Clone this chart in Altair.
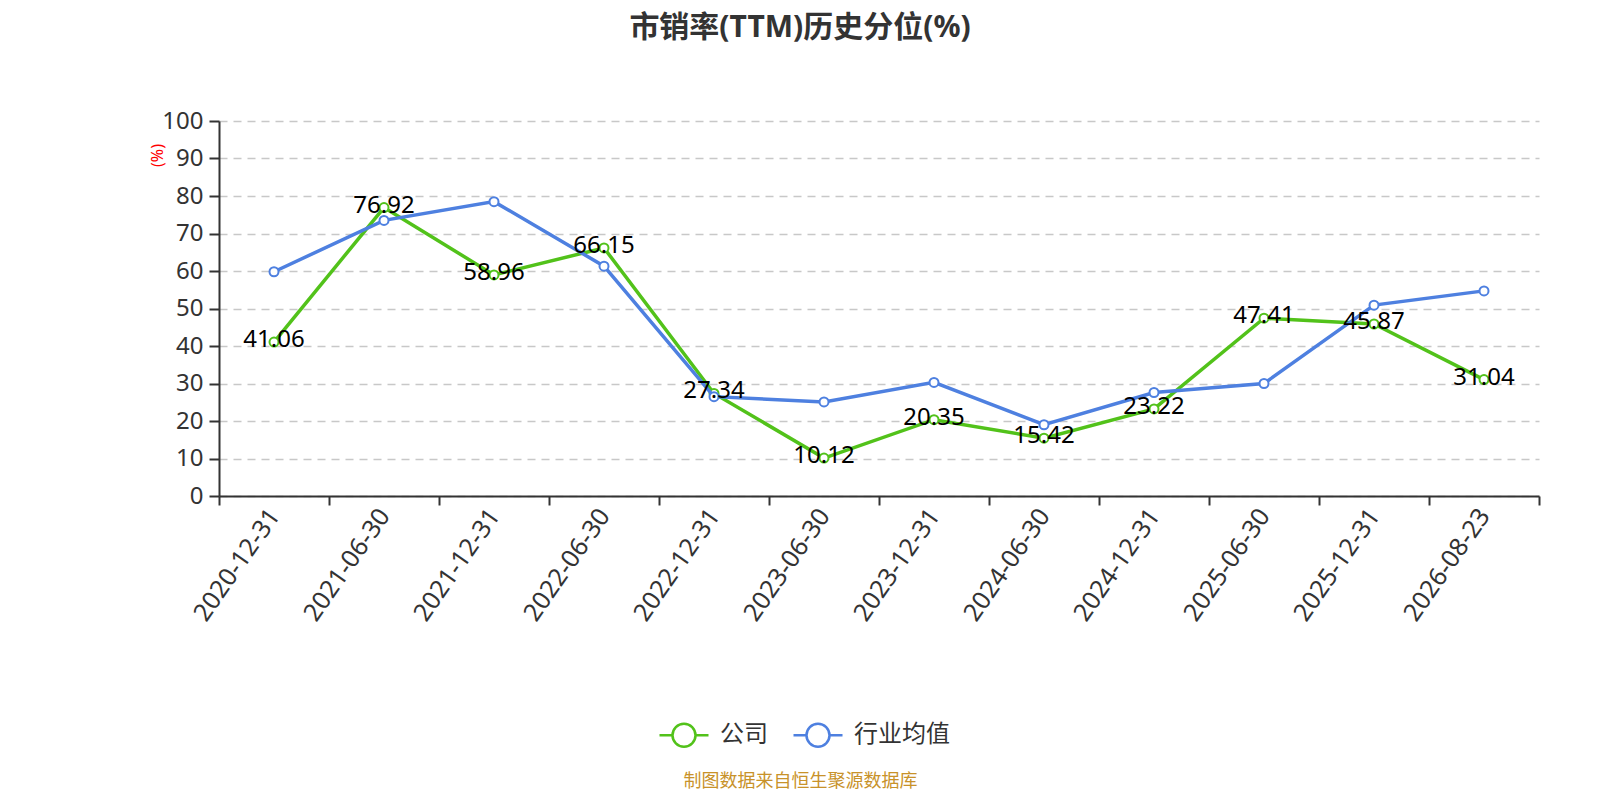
import altair as alt
import pandas as pd

dates = ["2020-12-31", "2021-06-30", "2021-12-31", "2022-06-30", "2022-12-31", "2023-06-30",
         "2023-12-31", "2024-06-30", "2024-12-31", "2025-06-30", "2025-12-31", "2026-08-23"]
company = [41.06, 76.92, 58.96, 66.15, 27.34, 10.12, 20.35, 15.42, 23.22, 47.41, 45.87, 31.04]
industry = [59.8, 73.5, 78.5, 61.3, 26.5, 25.1, 30.3, 19.0, 27.6, 30.0, 50.9, 54.7]
series_names = ["公司", "行业均值"]
colors = ["#52c21a", "#4e80e0"]

rows = []
for d, v in zip(dates, company):
    rows.append({"date": d, "series": series_names[0], "value": v})
for d, v in zip(dates, industry):
    rows.append({"date": d, "series": series_names[1], "value": v})
df = pd.DataFrame(rows)

FONT = "Noto Sans, Noto Sans CJK SC, sans-serif"

legend_path = ("M-1,0 L-0.47,0 M0.47,0 L1,0 "
               "M-0.47,0 A0.47,0.47 0 1,0 0.47,0 A0.47,0.47 0 1,0 -0.47,0 Z")

color_scale = alt.Scale(domain=series_names, range=colors)

x_enc = alt.X(
    "date:O", sort=dates,
    scale=alt.Scale(type="band", paddingInner=0, paddingOuter=0),
    axis=alt.Axis(
        title="制图数据来自恒生聚源数据库", titleColor="#c8922a", titleFont=FONT,
        titleFontSize=18, titleFontWeight="normal", titleX=581, titleY=285,
        titleAlign="center", titleBaseline="middle",
        labelAngle=-55, labelFontSize=25, labelFont=FONT, labelColor="#333333",
        labelPadding=6, tickBand="extent", tickSize=9, tickWidth=2,
        tickColor="#333333", domainColor="#333333", domainWidth=2, grid=False,
    ),
)
y_enc = alt.Y(
    "value:Q",
    scale=alt.Scale(domain=[0, 100], nice=False),
    axis=alt.Axis(
        title="(%)", titleColor="red", titleFont=FONT, titleFontSize=16,
        titleFontWeight="normal", titleX=-62, titleY=34, titleAlign="center",
        titleBaseline="middle",
        values=list(range(0, 101, 10)), labelFontSize=24, labelFont=FONT,
        labelColor="#333333", labelPadding=6, tickSize=10, tickWidth=2,
        tickColor="#333333", domainColor="#333333", domainWidth=2,
        grid=True, gridColor="#c8c8c8", gridDash=[8, 6], gridWidth=1.5,
    ),
)

base = alt.Chart(df)

def line_layer(name, with_legend):
    enc_color = alt.Color(
        "series:N", scale=color_scale,
        legend=alt.Legend(
            title=None, orient="none", legendX=439, legendY=588, direction="horizontal",
            symbolType=legend_path, symbolSize=2401, symbolStrokeWidth=2.5,
            symbolFillColor="white", labelFontSize=24, labelFont=FONT,
            labelColor="#333333", labelOffset=10, columnPadding=20,
        ) if with_legend else None,
    )
    return base.transform_filter(alt.datum.series == name).mark_line(strokeWidth=3.5).encode(
        x=x_enc, y=y_enc, color=enc_color
    )

def point_layer(name):
    return base.transform_filter(alt.datum.series == name).mark_point(
        shape="circle", filled=True, fill="white", size=81, strokeWidth=2, opacity=1
    ).encode(
        x=x_enc, y=y_enc,
        stroke=alt.Stroke("series:N", scale=color_scale, legend=None),
    )

labels = base.transform_filter(alt.datum.series == series_names[0]).mark_text(
    fontSize=24, font=FONT, color="#000000", align="center", baseline="middle", dy=-2
).encode(x=x_enc, y=y_enc, text=alt.Text("value:Q", format=".2f"))

chart = alt.layer(
    line_layer(series_names[0], True),
    point_layer(series_names[0]),
    line_layer(series_names[1], True),
    point_layer(series_names[1]),
    labels,
).properties(
    width=1320, height=375,
    title=alt.TitleParams(
        text="市销率(TTM)历史分位(%)", font=FONT, fontSize=30, fontWeight="bold",
        color="#333333", anchor="middle", dx=-79, offset=36, baseline="bottom",
    ),
    autosize=alt.AutoSizeParams(type="none"),
    padding={"left": 211, "top": 113, "right": 53, "bottom": 296},
).configure_view(stroke=None)

chart.save("out.html", embed_options={"renderer": "svg", "actions": False})
